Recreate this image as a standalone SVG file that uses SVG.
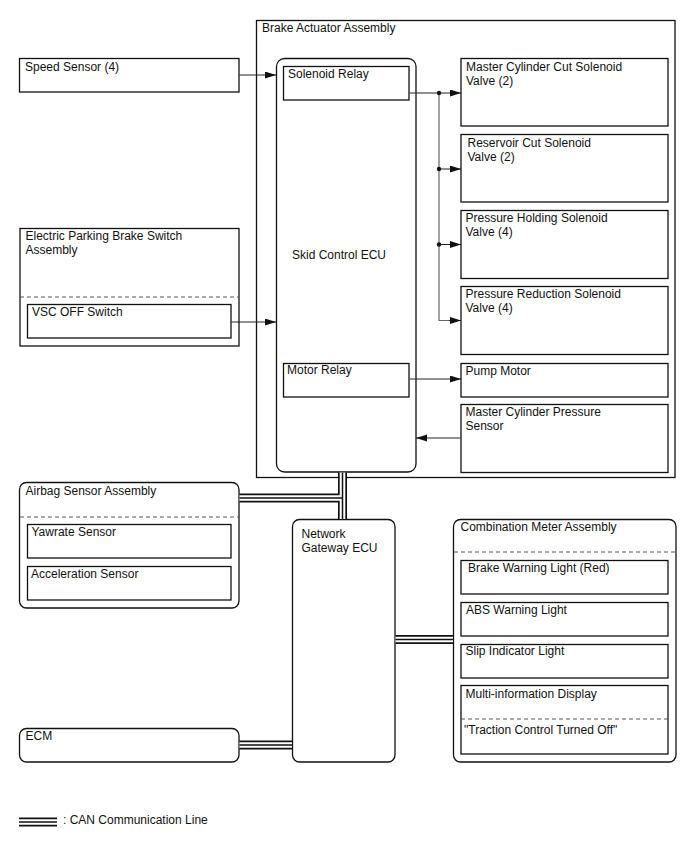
<svg xmlns="http://www.w3.org/2000/svg" width="688" height="852" viewBox="0 0 688 852">
<style>
text{font-family:"Liberation Sans",Arial,sans-serif;font-size:12px;fill:#111}
.b{fill:#fff;stroke:#111;stroke-width:1.3}
.d{fill:none;stroke:#555;stroke-width:1;stroke-dasharray:4 3}
.w{fill:none;stroke:#222;stroke-width:1}
.bus{fill:none;stroke:#666;stroke-width:1.2}
.c1{fill:none;stroke:#111;stroke-width:9}
.c2{fill:none;stroke:#fff;stroke-width:5.6}
.c3{fill:none;stroke:#111;stroke-width:1.5}
</style>
<defs>
<marker id="ah" markerUnits="userSpaceOnUse" markerWidth="12" markerHeight="8" refX="11" refY="3.5" orient="auto">
<path d="M0,0 L11,3.5 L0,7 z" fill="#111"/>
</marker>
</defs>

<g id="brake-actuator">
<rect class="b" x="256.5" y="20.5" width="418.5" height="457"/>
<text x="262" y="32">Brake Actuator Assembly</text>
</g>

<g id="skid-control-ecu">
<rect class="b" x="276.5" y="58.5" width="139.5" height="413.5" rx="8"/>
<text x="292" y="259">Skid Control ECU</text>
</g>

<g id="solenoid-relay">
<rect class="b" x="283.5" y="66.5" width="125.5" height="33.5"/>
<text x="288" y="78">Solenoid Relay</text>
</g>

<g id="motor-relay">
<rect class="b" x="283.5" y="363.5" width="125.5" height="33.5"/>
<text x="287" y="374">Motor Relay</text>
</g>

<g id="speed-sensor">
<rect class="b" x="19.5" y="58.5" width="219.5" height="33.5"/>
<text x="25" y="71">Speed Sensor (4)</text>
</g>

<g id="epb-switch">
<rect class="b" x="20" y="228.5" width="219" height="117.5"/>
<text x="25.5" y="240">Electric Parking Brake Switch</text>
<text x="25.5" y="254">Assembly</text>
<line class="d" x1="20" y1="297" x2="239" y2="297"/>
</g>

<g id="vsc-off-switch">
<rect class="b" x="27.5" y="304.5" width="203.5" height="33.5"/>
<text x="32" y="316">VSC OFF Switch</text>
</g>

<g id="mc-cut-valve">
<rect class="b" x="461" y="58.5" width="207" height="67.5"/>
<text x="466" y="71">Master Cylinder Cut Solenoid</text>
<text x="466" y="85">Valve (2)</text>
</g>

<g id="reservoir-cut-valve">
<rect class="b" x="461" y="134.5" width="207" height="67.5"/>
<text x="467.5" y="147">Reservoir Cut Solenoid</text>
<text x="467.5" y="161">Valve (2)</text>
</g>

<g id="pressure-holding-valve">
<rect class="b" x="461" y="210.5" width="207" height="68"/>
<text x="465.5" y="222">Pressure Holding Solenoid</text>
<text x="465.5" y="236">Valve (4)</text>
</g>

<g id="pressure-reduction-valve">
<rect class="b" x="461" y="286.5" width="207" height="68"/>
<text x="465.5" y="298">Pressure Reduction Solenoid</text>
<text x="465.5" y="312">Valve (4)</text>
</g>

<g id="pump-motor">
<rect class="b" x="461" y="363.5" width="207" height="33.5"/>
<text x="465.5" y="375">Pump Motor</text>
</g>

<g id="mc-pressure-sensor">
<rect class="b" x="461" y="404.5" width="207" height="68"/>
<text x="465.5" y="416">Master Cylinder Pressure</text>
<text x="465.5" y="430">Sensor</text>
</g>

<g id="airbag-sensor">
<rect class="b" x="19.5" y="482.5" width="219.5" height="125.5" rx="7"/>
<text x="25.5" y="494.5">Airbag Sensor Assembly</text>
<line class="d" x1="20" y1="517" x2="239" y2="517"/>
</g>

<g id="yawrate-sensor">
<rect class="b" x="27.5" y="524.5" width="203.5" height="33.5"/>
<text x="31.5" y="536">Yawrate Sensor</text>
</g>

<g id="acceleration-sensor">
<rect class="b" x="27.5" y="566.5" width="203.5" height="33.5"/>
<text x="31" y="578">Acceleration Sensor</text>
</g>

<g id="network-gateway-ecu">
<rect class="b" x="292.5" y="519.5" width="102.5" height="242.5" rx="7"/>
<text x="301.5" y="538">Network</text>
<text x="301.5" y="552">Gateway ECU</text>
</g>

<g id="ecm">
<rect class="b" x="19.5" y="728.5" width="219.5" height="33.5" rx="7"/>
<text x="25.5" y="739.5">ECM</text>
</g>

<g id="combination-meter">
<rect class="b" x="453.5" y="519.5" width="222.5" height="242.5" rx="7"/>
<text x="460.5" y="531">Combination Meter Assembly</text>
<line class="d" x1="454" y1="552" x2="676" y2="552"/>
</g>

<g id="brake-warning-light">
<rect class="b" x="461" y="560.5" width="207" height="33.5"/>
<text x="468" y="572">Brake Warning Light (Red)</text>
</g>

<g id="abs-warning-light">
<rect class="b" x="461" y="602.5" width="207" height="33.5"/>
<text x="466" y="613.5">ABS Warning Light</text>
</g>

<g id="slip-indicator-light">
<rect class="b" x="461" y="644.5" width="207" height="33.5"/>
<text x="465.5" y="655">Slip Indicator Light</text>
</g>

<g id="multi-info-display">
<rect class="b" x="461" y="685.5" width="207" height="68.5"/>
<text x="465.5" y="697.5">Multi-information Display</text>
<line class="d" x1="461" y1="719" x2="668" y2="719"/>
<text x="464" y="733.5">"Traction Control Turned Off"</text>
</g>

<g id="connectors">
<g id="can">
<path class="c1" d="M342.5,472.5 V519 M239.5,498 H342.5 M395.5,639.5 H453 M239.5,745 H292 M19,822 H57"/>
<path class="c2" d="M342.5,472.5 V519 M239.5,498 H342.5 M395.5,639.5 H453 M239.5,745 H292 M19,822 H57"/>
<path class="c3" d="M342.5,472.5 V519 M239.5,498 H342.5 M395.5,639.5 H453 M239.5,745 H292 M19,822 H57"/>
</g>
<path class="w" d="M239.5,75 H276" marker-end="url(#ah)"/>
<path class="w" d="M231.5,322 H276" marker-end="url(#ah)"/>
<path class="w" d="M409.5,93 H461" marker-end="url(#ah)"/>
<path class="bus" d="M439,93 V320.5 H450"/>
<path class="w" d="M439,169 H461" marker-end="url(#ah)"/>
<path class="w" d="M439,244.5 H461" marker-end="url(#ah)"/>
<path class="w" d="M449,320.5 H461" marker-end="url(#ah)"/>
<circle cx="439" cy="93" r="2.2" fill="#111"/>
<circle cx="439" cy="169" r="2.2" fill="#111"/>
<circle cx="439" cy="244.5" r="2.2" fill="#111"/>
<path class="w" d="M409.5,379 H461" marker-end="url(#ah)"/>
<path class="w" d="M460.5,438 H416" marker-end="url(#ah)"/>
</g>

<g id="legend">
<text x="63" y="824">: CAN Communication Line</text>
</g>
</svg>
